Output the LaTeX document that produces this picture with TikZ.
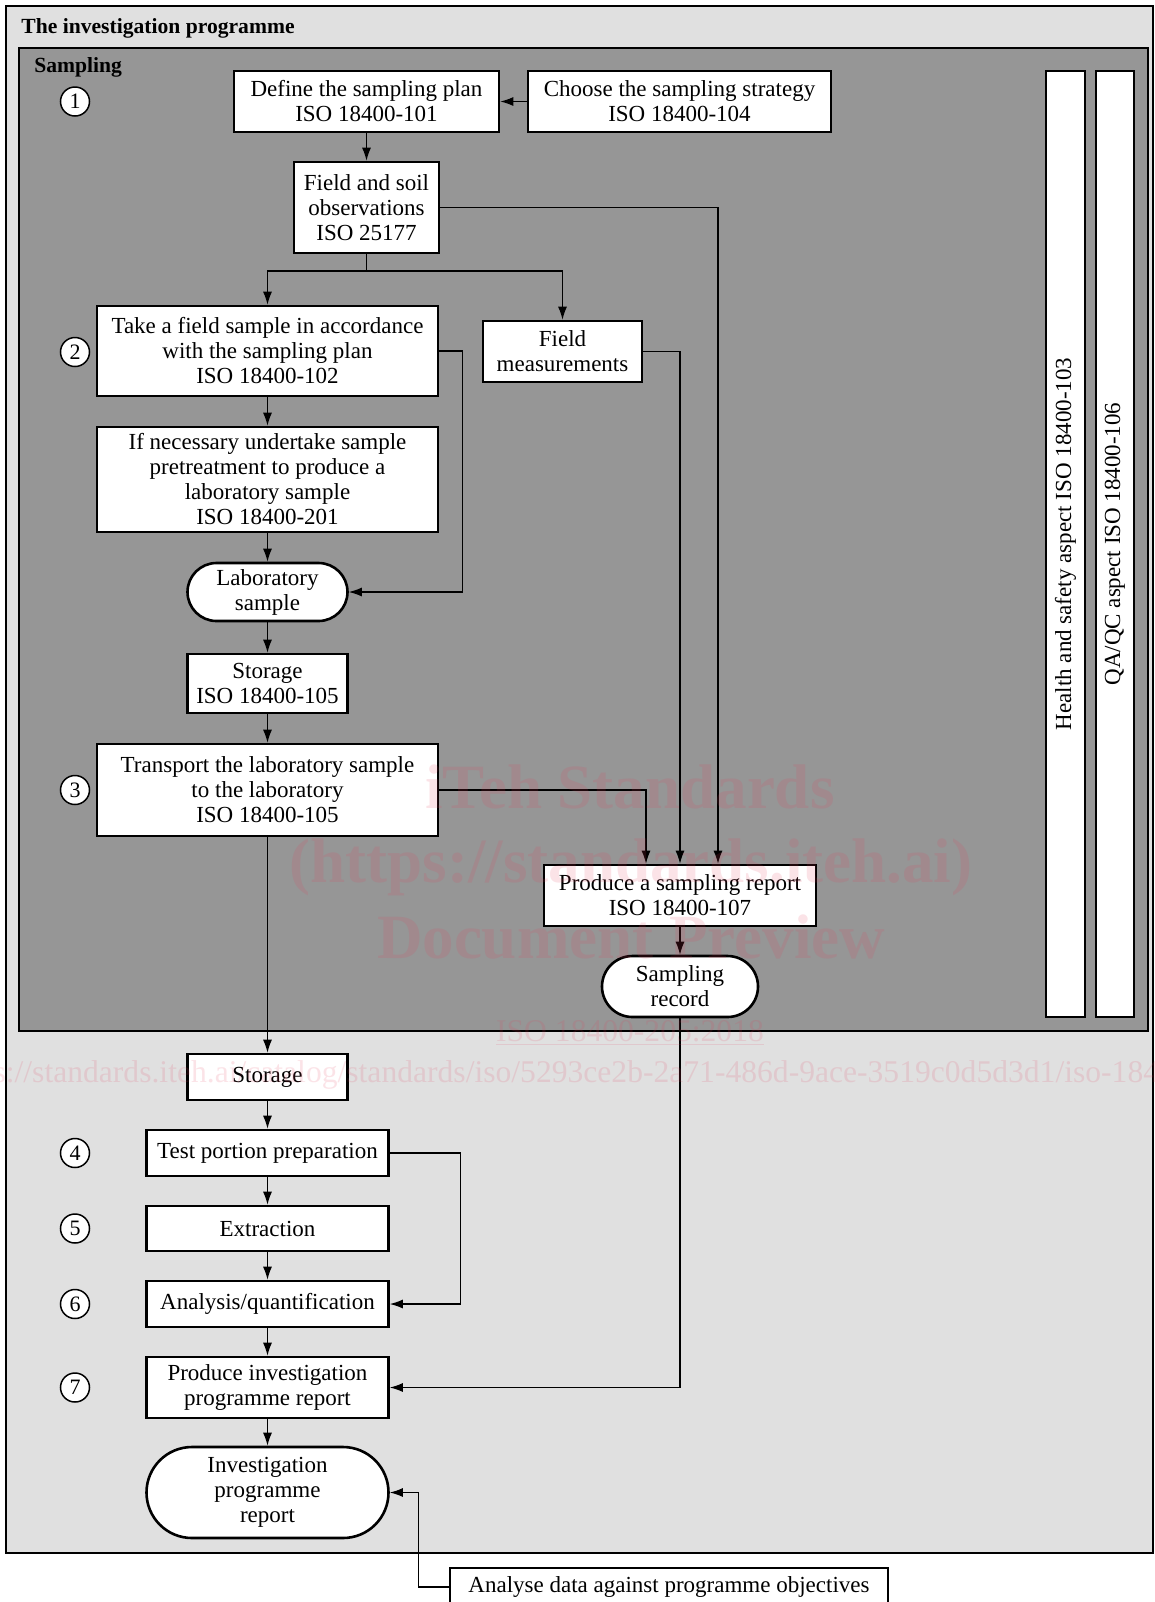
\documentclass[tikz,border=0pt]{standalone}
\usepackage{fontspec}
\setmainfont{Liberation Serif}
\usetikzlibrary{arrows.meta}
\definecolor{lightbg}{RGB}{224,224,224}
\definecolor{sampbg}{RGB}{150,150,150}
\definecolor{wmark}{RGB}{230,60,90}
\begin{document}
\begin{tikzpicture}[x=0.5pt,y=-0.5pt,
  box/.style={draw, line width=1.3pt, fill=white, inner sep=0pt, align=center,
              font=\fontsize{11.5pt}{12.5pt}\selectfont},
  stadium/.style={box, rounded corners=#1},
  arr/.style={line width=0.6pt, -{Latex[length=6.5pt,width=4.5pt]}},
  plain/.style={line width=0.6pt},
  num/.style={draw, circle, fill=white, line width=0.75pt, minimum size=14.5pt,
              inner sep=0pt, font=\fontsize{11pt}{12pt}\selectfont},
  frame/.style={draw, line width=1.4pt},
  head/.style={anchor=base west, inner sep=0pt, font=\bfseries\fontsize{10.8pt}{12pt}\selectfont},
  wmbig/.style={text=wmark, text opacity=0.14, inner sep=0pt, font=\bfseries\fontsize{31.5pt}{34pt}\selectfont},
  wmsmall/.style={text=wmark, text opacity=0.14, inner sep=0pt, font=\fontsize{15.8pt}{18pt}\selectfont},
]
\useasboundingbox (0,0) rectangle (1155,1602);
\fill[white] (0,0) rectangle (1155,1602);

% frames
\draw[frame, fill=lightbg] (6,6) rectangle (1153,1553);
\draw[frame, fill=sampbg] (19,48) rectangle (1148,1031);
\node[head] (title) at (21,33) {The investigation programme};
\node[head] (samp) at (34,72) {Sampling};

% side bars
\node[box, rotate=90, minimum width=473pt, minimum height=19.5pt] (hs) at (1065.5,544) {Health and safety aspect ISO 18400-103};
\node[box, rotate=90, minimum width=473pt, minimum height=19pt] (qa) at (1115,544) {QA/QC aspect ISO 18400-106};

% step numbers
\node[num] (c1) at (75,101.5) {1};
\node[num] (c2) at (75,352) {2};
\node[num] (c3) at (75,790) {3};
\node[num] (c4) at (75,1153) {4};
\node[num] (c5) at (75,1228.5) {5};
\node[num] (c6) at (75,1304) {6};
\node[num] (c7) at (75,1387.5) {7};

% boxes
\node[box, minimum width=132.5pt, minimum height=30.5pt] (b1) at (366.5,101.5) {Define the sampling plan\\ISO 18400-101};
\node[box, minimum width=151.5pt, minimum height=30.5pt] (b2) at (679.5,101.5) {Choose the sampling strategy\\ISO 18400-104};
\node[box, minimum width=72.5pt, minimum height=45.5pt] (b3) at (366.5,207.5) {Field and soil\\observations\\ISO 25177};
\node[box, minimum width=170.5pt, minimum height=45pt] (b4) at (267.5,351) {Take a field sample in accordance\\with the sampling plan\\ISO 18400-102};
\node[box, minimum width=79.5pt, minimum height=30.5pt] (b5) at (562.5,351.5) {Field\\measurements};
\node[box, minimum width=170.5pt, minimum height=52.5pt] (b6) at (267.5,479.5) {If necessary undertake sample\\pretreatment to produce a\\laboratory sample\\ISO 18400-201};
\node[stadium=14.5pt, minimum width=80pt, minimum height=29pt] (b7) at (267.5,592) {Laboratory\\sample};
\node[box, minimum width=80pt, minimum height=29.5pt] (b8) at (267.5,683.5) {Storage\\ISO 18400-105};
\node[box, minimum width=170.5pt, minimum height=46pt] (b9) at (267.5,790) {Transport the laboratory sample\\to the laboratory\\ISO 18400-105};
\node[box, minimum width=136pt, minimum height=30.5pt] (b10) at (680,895.5) {Produce a sampling report\\ISO 18400-107};
\node[stadium=15.25pt, minimum width=78pt, minimum height=30.5pt] (b11) at (680,986.5) {Sampling\\record};
\node[box, minimum width=80pt, minimum height=23pt] (b12) at (267.5,1077) {Storage};
\node[box, minimum width=121pt, minimum height=23pt] (b13) at (267.5,1153) {Test portion preparation};
\node[box, minimum width=121pt, minimum height=22.5pt] (b14) at (267.5,1228.5) {Extraction};
\node[box, minimum width=121pt, minimum height=23pt] (b15) at (267.5,1304) {Analysis/quantification};
\node[box, minimum width=121pt, minimum height=30.5pt] (b16) at (267.5,1387.5) {Produce investigation\\programme report};
\node[stadium=22.75pt, minimum width=121pt, minimum height=45.5pt] (b17) at (267.5,1492.5) {Investigation\\programme\\report};
\node[box, minimum width=219pt, minimum height=19pt] (b18) at (669,1587) {Analyse data against programme objectives};

% connectors
\coordinate (j1) at (366.5,271);
\coordinate (r3) at ([xshift=19pt]b10.north);
\coordinate (r9) at ([xshift=-17pt]b10.north);
\draw[arr] (b2.west) -- (b1.east);
\draw[arr] (b1.south) -- (b3.north);
\draw[plain] (b3.south) -- (j1);
\draw[arr] (j1) -| (b4.north);
\draw[arr] (j1) -| (b5.north);
\draw[arr] (b3.east) -| (r3);
\draw[arr] (b5.east) -| (b10.north);
\draw[arr] (b4.east) -- ++(23,0) |- (b7.east);
\draw[arr] (b4.south) -- (b6.north);
\draw[arr] (b6.south) -- (b7.north);
\draw[arr] (b7.south) -- (b8.north);
\draw[arr] (b8.south) -- (b9.north);
\draw[arr] (b9.east) -| (r9);
\draw[arr] (b9.south) -- (b12.north);
\draw[arr] (b10.south) -- (b11.north);
\draw[arr] (b11.south) |- (b16.east);
\draw[arr] (b12.south) -- (b13.north);
\draw[arr] (b13.south) -- (b14.north);
\draw[arr] (b14.south) -- (b15.north);
\draw[arr] (b15.south) -- (b16.north);
\draw[arr] (b16.south) -- (b17.north);
\draw[arr] (b13.east) -- ++(71,0) |- (b15.east);
\draw[arr] (b18.west) -- ++(-30,0) |- (b17.east);

% watermark
\node[wmbig] (w1) at (630,787) {iTeh Standards};
\node[wmbig] (w2) at (631,867) {(https://standards.iteh.ai)};
\node[wmbig] (w3) at (631,937) {Document Preview};
\node[wmsmall] (w4) at (630,1033) {\underline{ISO 18400-205:2018}};
\node[wmsmall, anchor=west] (w5) at (-56,1075) {https://standards.iteh.ai/catalog/standards/iso/5293ce2b-2a71-486d-9ace-3519c0d5d3d1/iso-18400-205-2018};
\end{tikzpicture}
\end{document}
